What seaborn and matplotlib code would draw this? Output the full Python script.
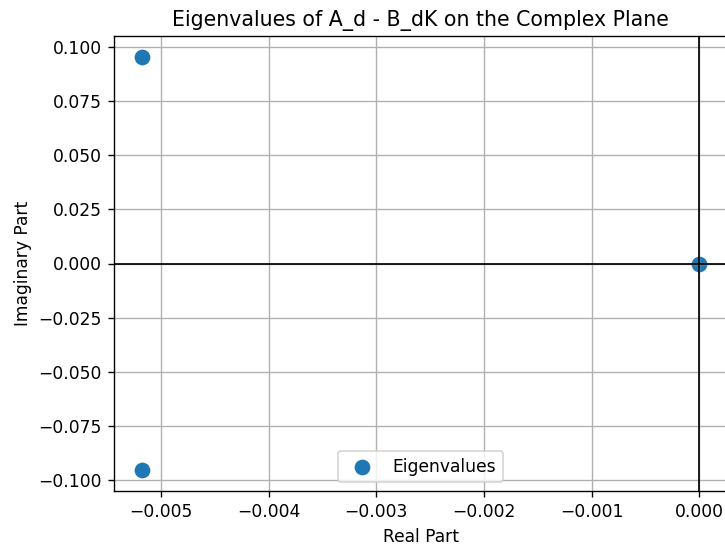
import matplotlib
matplotlib.use("Agg")
import matplotlib.pyplot as plt
import seaborn as sns
import numpy as np

real_part = [-0.00518, -0.00518, 0.0]
imag_part = [0.0955, -0.0955, 0.0]
series_label = "Eigenvalues"

DPI = 123
fig = plt.figure(figsize=(725/DPI, 548/DPI), dpi=DPI)
ax = fig.add_axes([114/725, (548-491)/548, (727-114)/725, (491-36)/548])

sns.scatterplot(x=real_part, y=imag_part, ax=ax, s=85, color="#1f77b4",
                linewidth=0, label=series_label)
ax.axhline(0, color="black", linewidth=1)
ax.axvline(0, color="black", linewidth=1)
ax.set_title("Eigenvalues of A_d - B_dK on the Complex Plane")
ax.set_xlabel("Real Part")
ax.set_ylabel("Imaginary Part")
ax.grid(True)
ax.legend(loc="lower center")
fig.savefig("out.png", dpi=DPI)
